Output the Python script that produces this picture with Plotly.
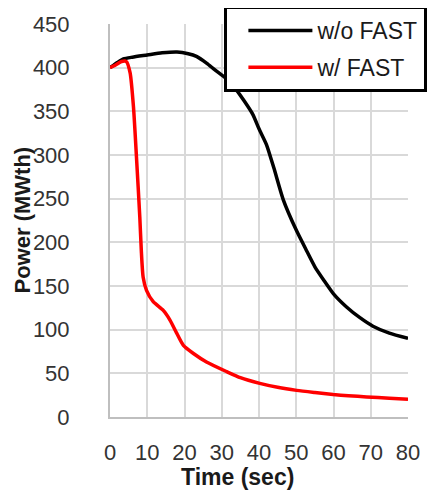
import plotly.graph_objects as go

# Data
t_wo = [0, 2, 3.6, 6, 10, 14, 18, 21, 23.2, 26, 28, 31.3, 34, 36, 38.4, 40, 42, 44, 46.5, 50, 52.7, 55, 57.5, 60, 63.5, 67, 70.6, 75, 80]
p_wo = [400, 406, 410, 412, 414.5, 417, 418, 416, 413, 405, 398, 387, 374, 362, 346, 330, 312, 285, 249, 214, 191, 172, 156, 141, 126, 114, 104, 96, 90]

t_w = [0, 1.5, 3.1, 4.4, 5.4, 6.3, 7.1, 8.0, 8.4, 8.9, 9.8, 11.6, 14.3, 16.1, 17.9, 19.7, 22.3, 25.9, 31.3, 35, 40.2, 45, 50.1, 55, 59.9, 64, 68.9, 75, 80]
p_w = [400, 403, 407, 407, 394, 355, 298, 229, 191, 160, 145, 132, 122, 111, 96, 82, 73, 63, 52, 45, 38.5, 34, 30.5, 28, 25.7, 24.3, 23, 21.5, 20.3]

series_names = ["w/o FAST", "w/ FAST"]
series_colors = ["#000000", "#ff0000"]

x_ticks = [0, 10, 20, 30, 40, 50, 60, 70, 80]
y_ticks = [0, 50, 100, 150, 200, 250, 300, 350, 400, 450]

FONT = "Liberation Sans"

# page body adds an 8px offset; figure is sized so it fills the window
W, H = 431, 483
L, T = 102, 16
PLOT_W, PLOT_H = 298, 393

fig = go.Figure()
for i, (tx, py) in enumerate([(t_wo, p_wo), (t_w, p_w)]):
    fig.add_trace(go.Scatter(
        x=tx, y=py, mode="lines", name=series_names[i],
        line=dict(color=series_colors[i], width=3.5, shape="spline", smoothing=0.6),
        legendgroup=f"g{i}",
    ))

def px_x(p):
    return (p - 8 - L) / PLOT_W

def px_y(p):
    return (T + PLOT_H - (p - 8)) / PLOT_H

fig.update_layout(
    width=W, height=H,
    margin=dict(l=L, r=W - L - PLOT_W, t=T, b=H - T - PLOT_H, autoexpand=False),
    paper_bgcolor="white", plot_bgcolor="white",
    font=dict(family=FONT, size=22, color="#333333"),
    showlegend=True,
    legend=dict(
        x=px_x(224), y=px_y(6), xanchor="left", yanchor="top",
        bgcolor="white", bordercolor="black", borderwidth=3,
        font=dict(family=FONT, size=23, color="#1a1a1a"),
        tracegroupgap=4, itemwidth=64,
        title=dict(text="&nbsp;", side="left", font=dict(size=23)),
    ),
    xaxis=dict(
        range=[0, 80], tickvals=x_ticks, ticktext=[str(v) for v in x_ticks],
        showgrid=True, gridcolor="#d9d9d9", gridwidth=2,
        showline=True, linecolor="#bfbfbf", linewidth=2,
        zeroline=False, ticks="", ticklabelstandoff=15,
        tickfont=dict(family=FONT, size=22, color="#333333"),
    ),
    yaxis=dict(
        range=[0, 450], tickvals=y_ticks, ticktext=[str(v) for v in y_ticks],
        showgrid=True, gridcolor="#d9d9d9", gridwidth=2,
        showline=True, linecolor="#bfbfbf", linewidth=2,
        zeroline=False, ticks="", ticklabelstandoff=34,
        tickfont=dict(family=FONT, size=22, color="#333333"),
    ),
    annotations=[
        dict(text="<b>Time (sec)</b>", xref="paper", yref="paper",
             x=px_x(237), y=px_y(477), xanchor="center", yanchor="middle",
             showarrow=False, font=dict(family=FONT, size=23, color="#1a1a1a")),
        dict(text="<b>Power (MWth)</b>", xref="paper", yref="paper",
             x=px_x(22), y=0.5, xanchor="center", yanchor="middle", textangle=-90,
             showarrow=False, font=dict(family=FONT, size=22, color="#1a1a1a")),
    ],
)

fig.write_html("out.html")
